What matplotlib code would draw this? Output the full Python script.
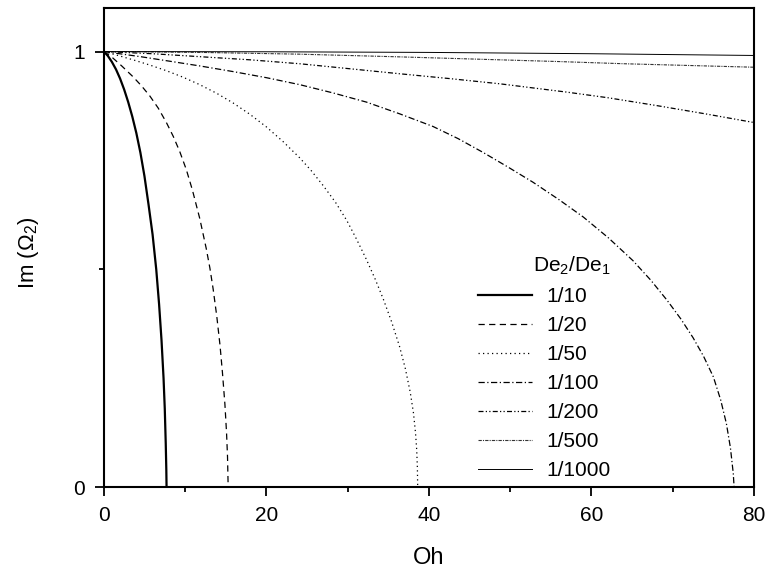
import matplotlib
matplotlib.use('Agg')
import matplotlib.pyplot as plt
from matplotlib.ticker import MultipleLocator

plt.rcParams['font.family'] = ['Liberation Sans', 'DejaVu Sans']
plt.rcParams['mathtext.fontset'] = 'custom'
plt.rcParams['mathtext.rm'] = 'Liberation Sans'
plt.rcParams['mathtext.it'] = 'Liberation Sans'

# values, one curve per De2/De1 ratio
oh_10 = [0, 0.5, 1.0, 1.5, 2.0, 2.5, 3.0, 3.5, 4.0, 4.5, 5.0, 5.5, 6.0, 6.45, 6.8,
         7.1, 7.35, 7.5, 7.62, 7.69, 7.72]
im_10 = [1.0, 0.99, 0.976, 0.959, 0.938, 0.913, 0.884, 0.851, 0.813, 0.768, 0.714, 0.649,
         0.58, 0.50, 0.42, 0.337, 0.25, 0.18, 0.10, 0.04, 0.0]

oh_20 = [0, 0.94, 2.2, 3.6, 4.6, 5.66, 6.7, 7.7, 8.55, 9.35, 10.15, 10.9, 11.8, 12.6,
         13.05, 13.45, 13.9, 14.3, 14.6, 14.9, 15.1, 15.22, 15.3]
im_20 = [1.0, 0.988, 0.967, 0.942, 0.922, 0.898, 0.870, 0.837, 0.805, 0.770, 0.729, 0.682,
         0.617, 0.548, 0.503, 0.455, 0.392, 0.325, 0.262, 0.19, 0.125, 0.07, 0.0]

oh_50 = [0, 1.56, 3.6, 5.66, 7.7, 9.76, 11.8, 13.9, 15.9, 17.97, 20.0, 22.07, 24.1, 25.5,
         27.0, 28.5, 29.9, 31.1, 32.3, 33.4, 34.4, 35.4, 36.4, 37.1, 37.7, 38.1, 38.35,
         38.5, 38.58, 38.62]
im_50 = [1.0, 0.992, 0.981, 0.969, 0.956, 0.941, 0.924, 0.904, 0.882, 0.856, 0.827, 0.793,
         0.756, 0.727, 0.692, 0.654, 0.612, 0.569, 0.523, 0.477, 0.431, 0.380, 0.322, 0.272,
         0.218, 0.17, 0.125, 0.085, 0.045, 0.0]

oh_100 = [0, 1.56, 4.6, 7.7, 11.8, 15.9, 20, 24.1, 28.2, 32.3, 36.4, 40.5, 43.6, 46.7,
          49.8, 52.8, 56.0, 59.0, 62.1, 65.1, 67.3, 69.3, 71.0, 72.5, 73.8, 75.0, 75.9,
          76.6, 77.1, 77.45, 77.55]
im_100 = [1.0, 0.996, 0.988, 0.979, 0.967, 0.954, 0.94, 0.924, 0.905, 0.884, 0.857, 0.828,
          0.800, 0.768, 0.734, 0.70, 0.66, 0.62, 0.572, 0.52, 0.475, 0.429, 0.386, 0.343,
          0.30, 0.253, 0.20, 0.146, 0.09, 0.031, 0.0]

oh_200 = [0, 6, 12, 18, 24.1, 30, 36.4, 42.5, 48.7, 56.9, 62, 68, 74, 80]
im_200 = [1.0, 0.995, 0.988, 0.981, 0.972, 0.961, 0.949, 0.938, 0.926, 0.907, 0.894,
          0.876, 0.857, 0.837]

oh_500 = [0, 12, 24, 36, 48.7, 56, 64, 72, 80]
im_500 = [1.0, 0.998, 0.994, 0.988, 0.981, 0.977, 0.972, 0.968, 0.964]

oh_1000 = [0, 20, 40, 60, 80]
im_1000 = [1.0, 0.9995, 0.998, 0.995, 0.991]

labels = ['1/10', '1/20', '1/50', '1/100', '1/200', '1/500', '1/1000']

fig = plt.figure(figsize=(7.69, 5.71), dpi=100)
ax = fig.add_axes([0.135, 0.147, 0.8455, 0.839])

ax.plot(oh_10, im_10, color='black', lw=1.6, ls='-', label=labels[0])
ax.plot(oh_20, im_20, color='black', lw=0.9, ls=(0, (5, 3.5)), label=labels[1])
ax.plot(oh_50, im_50, color='black', lw=0.9, ls=(0, (1, 2.6)), label=labels[2])
ax.plot(oh_100, im_100, color='black', lw=0.9, ls=(0, (5, 2, 1, 2)), label=labels[3])
ax.plot(oh_200, im_200, color='black', lw=0.9, ls=(0, (4, 1.8, 1, 1.8, 1, 1.8)), label=labels[4])
ax.plot(oh_500, im_500, color='#333333', lw=0.8, ls=(0, (3, 1, 1, 1)), label=labels[5])
ax.plot(oh_1000, im_1000, color='black', lw=0.7, ls='-', label=labels[6])

ax.set_xlim(0, 80)
ax.set_ylim(0, 1.1)
ax.xaxis.set_major_locator(MultipleLocator(20))
ax.xaxis.set_minor_locator(MultipleLocator(10))
ax.set_yticks([0, 1])
ax.set_yticks([0.5], minor=True)
ax.tick_params(which='both', direction='out', width=1.3, labelsize=15, pad=7,
               top=False, right=False)
ax.tick_params(which='major', length=6.5)
ax.tick_params(which='minor', length=3.6)
for s in ax.spines.values():
    s.set_linewidth(1.5)

ax.set_xlabel('Oh', fontsize=17, labelpad=16)
ax.set_ylabel('Im (Ω$_2$)', fontsize=16)
ax.yaxis.set_label_coords(-0.097, 0.49)

leg = ax.legend(title='De$_2$/De$_1$', loc='upper left', bbox_to_anchor=(0.575, 0.484),
                frameon=False, fontsize=15, title_fontsize=15, handlelength=2.6,
                handletextpad=0.72, labelspacing=0.48, borderaxespad=0,
                borderpad=0, alignment='right')

fig.savefig('out.png', dpi=100)
